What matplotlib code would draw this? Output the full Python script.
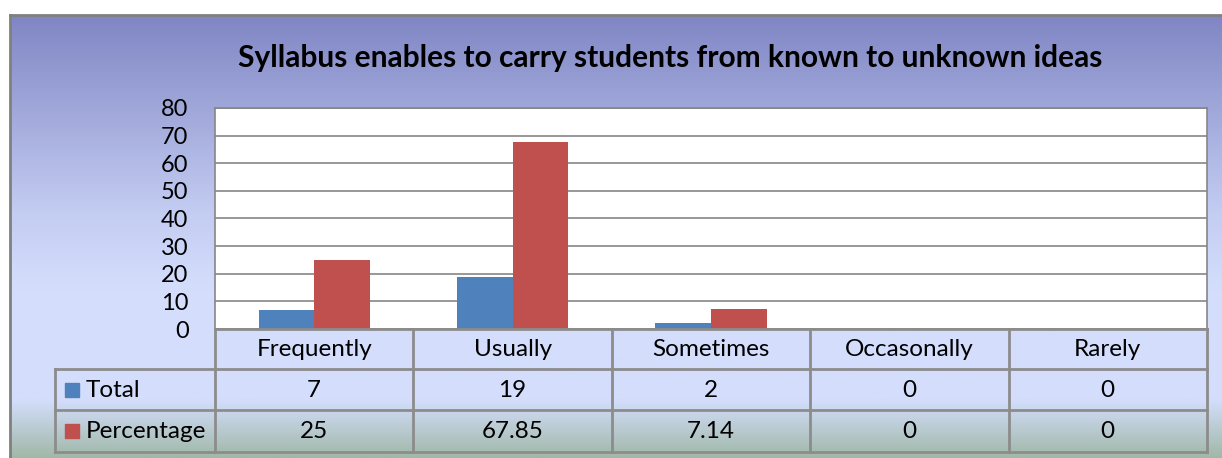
import numpy as np
import matplotlib.pyplot as plt
from matplotlib.colors import LinearSegmentedColormap
from matplotlib.patches import Rectangle

categories = ["Frequently", "Usually", "Sometimes", "Occasonally", "Rarely"]
total = [7, 19, 2, 0, 0]
percentage = [25, 67.85, 7.14, 0, 0]
total_labels = ["7", "19", "2", "0", "0"]
percentage_labels = ["25", "67.85", "7.14", "0", "0"]
series = ["Total", "Percentage"]
colors = ["#4F81BD", "#C0504D"]
title = "Syllabus enables to carry students from known to unknown ideas"

W, H = 1222, 458
plt.rcParams['font.family'] = ['Lato', 'DejaVu Sans']

fig = plt.figure(figsize=(W / 100, H / 100), dpi=100)
fig.patch.set_facecolor("white")

def fx(px):
    return px / W

def fy(py):
    return 1 - py / H

# gradient background of the chart frame
bg = fig.add_axes([fx(10), 0, 1 - fx(10), fy(15)])
cmap = LinearSegmentedColormap.from_list("bg", [
    (0.0, "#8086C4"), (0.45, "#C4CDF2"), (0.62, "#D4DEFC"),
    (0.87, "#D4DEFC"), (1.0, "#A0B8A8")])
grad = np.linspace(0, 1, 256).reshape(-1, 1)
bg.imshow(grad, aspect="auto", cmap=cmap, extent=[0, 1, 0, 1], origin="upper")
bg.set_xlim(0, 1)
bg.set_ylim(0, 1)
bg.set_xticks([])
bg.set_yticks([])
for s in ["right", "bottom"]:
    bg.spines[s].set_visible(False)
for s in ["left", "top"]:
    bg.spines[s].set_color("#808080")
    bg.spines[s].set_linewidth(2)

fig.text(fx(670), fy(58), title, ha="center", va="center",
         fontsize=21.5, fontweight="bold", color="black")

# plot area
x0, x1, ytop, ybot = 215, 1207, 108, 329
ax = fig.add_axes([fx(x0), fy(ybot), fx(x1 - x0), (ybot - ytop) / H])
ax.set_facecolor("white")
x = np.arange(len(categories))
bw = 0.28
ax.bar(x - bw / 2, total, bw, color=colors[0], zorder=3)
ax.bar(x + bw / 2, percentage, bw, color=colors[1], zorder=3)
ax.set_xlim(-0.5, len(categories) - 0.5)
ax.set_ylim(0, 80)
ax.set_yticks(range(0, 81, 10))
ax.set_xticks([])
ax.tick_params(axis="y", length=0, labelsize=17, pad=19)
ax.grid(axis="y", color="#868686", linewidth=1.2, zorder=0)
for s in ax.spines.values():
    s.set_color("#868686")
    s.set_linewidth(1.2)

# data table
tax = fig.add_axes([0, 0, 1, 1], facecolor="none")
tax.set_xlim(0, W)
tax.set_ylim(H, 0)
tax.axis("off")
colw = (x1 - x0) / len(categories)
rows = [329, 369, 410, 452]
lc = "#8C8C8C"
lw = 2
fs = 17.5
tax.plot([x0, x1], [rows[0], rows[0]], color=lc, lw=lw)
for r in rows[1:]:
    tax.plot([55, x1], [r, r], color=lc, lw=lw)
tax.plot([55, 55], [rows[1], rows[3]], color=lc, lw=lw)
for i in range(len(categories) + 1):
    tax.plot([x0 + i * colw] * 2, [rows[0], rows[3]], color=lc, lw=lw)
for i, c in enumerate(categories):
    cx = x0 + (i + 0.5) * colw
    tax.text(cx, (rows[0] + rows[1]) / 2 + 1, c, ha="center", va="center", fontsize=fs)
    tax.text(cx, (rows[1] + rows[2]) / 2 + 1, total_labels[i], ha="center", va="center", fontsize=fs)
    tax.text(cx, (rows[2] + rows[3]) / 2 + 1, percentage_labels[i], ha="center", va="center", fontsize=fs)
for j, name in enumerate(series):
    cy = (rows[j + 1] + rows[j + 2]) / 2
    tax.add_patch(Rectangle((65, cy - 7), 14, 14, color=colors[j]))
    tax.text(86, cy + 1, name, ha="left", va="center", fontsize=fs)

fig.savefig("out.png", dpi=100)
